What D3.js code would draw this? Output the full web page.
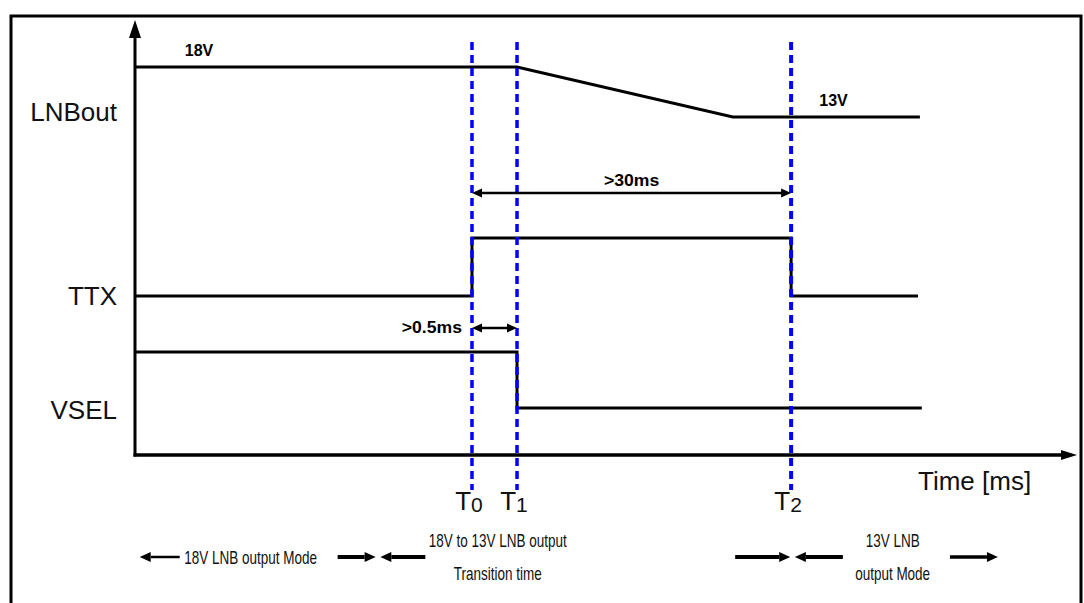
<!DOCTYPE html>
<html>
<head>
<script src="https://d3js.org/d3.v7.min.js"></script>
<style>
  body { margin: 0; background: #ffffff; }
  text { font-family: 'Liberation Sans', Arial, sans-serif; fill: #111; }
  .bold { font-weight: bold; font-size: 16px; fill: #000; }
  .sig { fill: none; stroke: #000; stroke-width: 3; }
</style>
</head>
<body>
<div id="chart"></div>
<script>
// ---- data (time in arbitrary units 0..100 along the time axis)
var signalNames = ["LNBout", "TTX", "VSEL"];
var markSubs = ["0", "1", "2"];
var markTimes = [35.85, 40.64, 69.8];

var lnbTimes = [0, 40.64, 63.6, 83.5];
var lnbVolts = [18, 18, 13, 13];
var ttxTimes = [0, 35.85, 35.85, 69.8, 69.8, 83.3];
var ttxLevels = [0, 0, 1, 1, 0, 0];
var vselTimes = [0, 40.64, 40.64, 83.7];
var vselLevels = [1, 1, 0, 0];

var voltLabels = ["18V", "13V"];
var voltLabelTimes = [5.3, 72.8];
var voltLabelVolts = [18, 13];

var spanLabels = [">30ms", ">0.5ms"];
var spanFrom = [35.85, 35.85];
var spanTo = [69.8, 40.64];

var phaseTexts = [["18V LNB output Mode"], ["18V to 13V LNB output", "Transition time"], ["13V LNB", "output Mode"]];
var phaseStart = [0.5, 26.1, 70.2];
var phaseEnd = [25.6, 69.7, 91.8];
var phaseTextTime = [12.3, 38.6, 80.6];

var axisTitle = "Time [ms]";

// ---- layout
var W = 1084, H = 603;
var x0 = 135, xAxisY = 455;
var x = d3.scaleLinear().domain([0, 100]).range([x0, 1075]);
var yLnb = d3.scaleLinear().domain([13, 18]).range([117, 67]);
var yTtx = d3.scaleLinear().domain([0, 1]).range([296, 238]);
var yVsel = d3.scaleLinear().domain([0, 1]).range([408, 352]);
var labelY = [112, 296, 410];

var svg = d3.select("#chart").append("svg")
  .attr("width", W)
  .attr("height", H);

// frame
svg.append("path")
  .attr("d", "M11,640 L11,16 L1081,16 L1081,640")
  .attr("fill", "none")
  .attr("stroke", "#000")
  .attr("stroke-width", 3);

function stretch(sel, f) {
  sel.each(function () {
    var w = this.getComputedTextLength();
    d3.select(this).attr("textLength", w * f).attr("lengthAdjust", "spacingAndGlyphs");
  });
}

// axes
svg.append("line")
  .attr("x1", x0).attr("y1", 34).attr("x2", x0).attr("y2", xAxisY + 1.5)
  .attr("stroke", "#000").attr("stroke-width", 3);
svg.append("path")
  .attr("d", "M" + x0 + ",20 L" + (x0 - 6) + ",38 L" + (x0 + 6) + ",38 Z")
  .attr("fill", "#000");
svg.append("line")
  .attr("x1", x0 - 1.5).attr("y1", xAxisY).attr("x2", x(100) - 12).attr("y2", xAxisY)
  .attr("stroke", "#000").attr("stroke-width", 3.5);
svg.append("path")
  .attr("d", "M" + (x(100) + 2) + "," + xAxisY + " L" + (x(100) - 14) + "," + (xAxisY - 5) + " L" + (x(100) - 14) + "," + (xAxisY + 5) + " Z")
  .attr("fill", "#000");

svg.append("text")
  .attr("x", 918).attr("y", 490)
  .style("font-size", "26px")
  .text(axisTitle);

// signal labels
svg.selectAll(".rowlabel")
  .data(signalNames)
  .enter().append("text")
  .attr("class", "rowlabel")
  .attr("x", 117)
  .attr("y", function (d, i) { return labelY[i]; })
  .attr("dy", "0.35em")
  .attr("text-anchor", "end")
  .style("font-size", "26px")
  .text(function (d) { return d; });

// signals
var line = d3.line().x(function (d) { return x(d[0]); }).y(function (d) { return d[1]; });
svg.append("path").attr("class", "sig")
  .attr("d", line(lnbTimes.map(function (t, i) { return [t, yLnb(lnbVolts[i])]; })));
svg.append("path").attr("class", "sig")
  .attr("d", line(ttxTimes.map(function (t, i) { return [t, yTtx(ttxLevels[i])]; })));
svg.append("path").attr("class", "sig")
  .attr("d", line(vselTimes.map(function (t, i) { return [t, yVsel(vselLevels[i])]; })));

// voltage labels
svg.selectAll(".volt")
  .data(voltLabels)
  .enter().append("text")
  .attr("class", "bold volt")
  .attr("x", function (d, i) { return x(voltLabelTimes[i]); })
  .attr("y", function (d, i) { return yLnb(voltLabelVolts[i]) - 11; })
  .text(function (d) { return d; })
  .call(stretch, 1.0);

// dashed markers
svg.selectAll(".mark")
  .data(markTimes)
  .enter().append("line")
  .attr("class", "mark")
  .attr("x1", function (d) { return x(d); })
  .attr("x2", function (d) { return x(d); })
  .attr("y1", 42).attr("y2", 490)
  .attr("stroke", "#0000ff")
  .attr("stroke-width", function (d, i) { return i == 2 ? 4 : 3.5; })
  .attr("stroke-dasharray", "8,5");

var markLabel = svg.selectAll(".marklabel")
  .data(markTimes)
  .enter().append("text")
  .attr("class", "marklabel")
  .attr("x", function (d) { return x(d) - 3; })
  .attr("y", 510)
  .attr("text-anchor", "middle")
  .style("font-size", "26px");
markLabel.append("tspan").text("T");
markLabel.append("tspan")
  .attr("dy", 2)
  .style("font-size", "21px")
  .text(function (d, i) { return markSubs[i]; });

// span arrows
var spanY = [193, 328];
spanLabels.forEach(function (lab, i) {
  var a = x(spanFrom[i]), b = x(spanTo[i]), y = spanY[i];
  svg.append("line")
    .attr("x1", a + 4).attr("x2", b - 4).attr("y1", y).attr("y2", y)
    .attr("stroke", "#000").attr("stroke-width", 2.5);
  svg.append("path")
    .attr("d", "M" + a + "," + y + " L" + (a + 10) + "," + (y - 4.5) + " L" + (a + 10) + "," + (y + 4.5) + " Z"
      + "M" + b + "," + y + " L" + (b - 10) + "," + (y - 4.5) + " L" + (b - 10) + "," + (y + 4.5) + " Z")
    .attr("fill", "#000");
  var t = svg.append("text").attr("class", "bold");
  if (i == 0) {
    t.attr("x", (a + b) / 2).attr("y", y - 7).attr("text-anchor", "middle");
  } else {
    t.attr("x", a - 10).attr("y", y + 5).attr("text-anchor", "end");
  }
  t.text(lab).call(stretch, 1.1);
});

// phase row
var arrowLen = [[40, 38], [45, 55], [48, 48]];
var arrowW = [[2.5, 4], [4, 4], [4, 3.5]];
function hArrow(xa, xb, y, w, dir) {
  // dir: -1 points left (head at xa), 1 points right (head at xb)
  var tip = dir < 0 ? xa : xb, base = tip - dir * 11;
  svg.append("line")
    .attr("x1", dir < 0 ? base : xa).attr("x2", dir < 0 ? xb : base)
    .attr("y1", y).attr("y2", y)
    .attr("stroke", "#000").attr("stroke-width", w);
  svg.append("path")
    .attr("d", "M" + tip + "," + y + " L" + base + "," + (y - 5) + " L" + base + "," + (y + 5) + " Z")
    .attr("fill", "#000");
}
var rowY = 557;
phaseTexts.forEach(function (lines, i) {
  var s = x(phaseStart[i]), e = x(phaseEnd[i]);
  hArrow(s, s + arrowLen[i][0], rowY, arrowW[i][0], -1);
  hArrow(e - arrowLen[i][1], e, rowY, arrowW[i][1], 1);
  var cx = x(phaseTextTime[i]);
  svg.selectAll(".ph" + i)
    .data(lines)
    .enter().append("text")
    .attr("class", "ph" + i)
    .attr("x", cx)
    .attr("y", function (d, j) { return lines.length == 1 ? rowY + 7 : rowY - 10 + j * 33; })
    .attr("text-anchor", "middle")
    .style("font-size", "19px")
    .text(function (d) { return d; })
    .call(stretch, 0.71);
});
</script>
</body>
</html>
